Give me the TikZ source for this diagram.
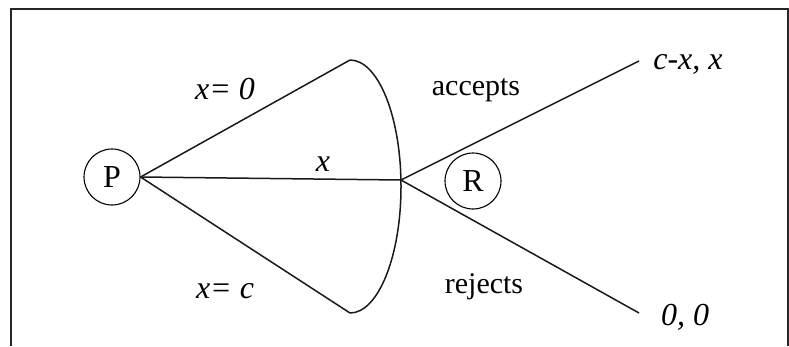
\documentclass[tikz,border=0pt]{standalone}
\usepackage{fontspec}
\setmainfont{Liberation Serif}
\begin{document}
\begin{tikzpicture}[x=1pt,y=-1pt,
  edge/.style={line width=1.5pt,black!90},
  player/.style={circle,draw,line width=1.1pt,minimum size=56pt,inner sep=0pt,font=\fontsize{32}{38}\selectfont},
  lbl/.style={anchor=base,inner sep=0pt,font=\fontsize{30}{36}\selectfont},
  ilbl/.style={anchor=base,inner sep=0pt,font=\fontsize{32}{38}\selectfont\itshape}]
\useasboundingbox (0,0) rectangle (789,346);
\draw[line width=1.7pt,black!85] (11,346) -- (11,9) -- (788,9) -- (788,346);
\node[player] (P) at (112,177) {P};
\node[player] (R) at (473,181) {R};
\coordinate (A) at (350,60);
\coordinate (M) at (401,180);
\coordinate (B) at (350,313);
\coordinate (U) at (639,61);
\coordinate (D) at (639,313);
\draw[edge] (P.east) -- (A);
\draw[edge] (P.east) -- (M);
\draw[edge] (P.east) -- (B);
\draw[edge] (A) arc[start angle=90,end angle=-90,x radius=51pt,y radius=126.5pt];
\draw[edge] (M) -- (U);
\draw[edge] (M) -- (D);
\node[ilbl] (l1) at (225,99) {x= 0};
\node[ilbl] (l2) at (323,171) {x};
\node[ilbl] (l3) at (225,298) {x= c};
\node[lbl] (l4) at (476,95) {accepts};
\node[lbl] (l5) at (484,293) {rejects};
\node[ilbl] (l6) at (688,69) {c-x, x};
\node[ilbl] (l7) at (685,325) {0, 0};
\end{tikzpicture}
\end{document}
